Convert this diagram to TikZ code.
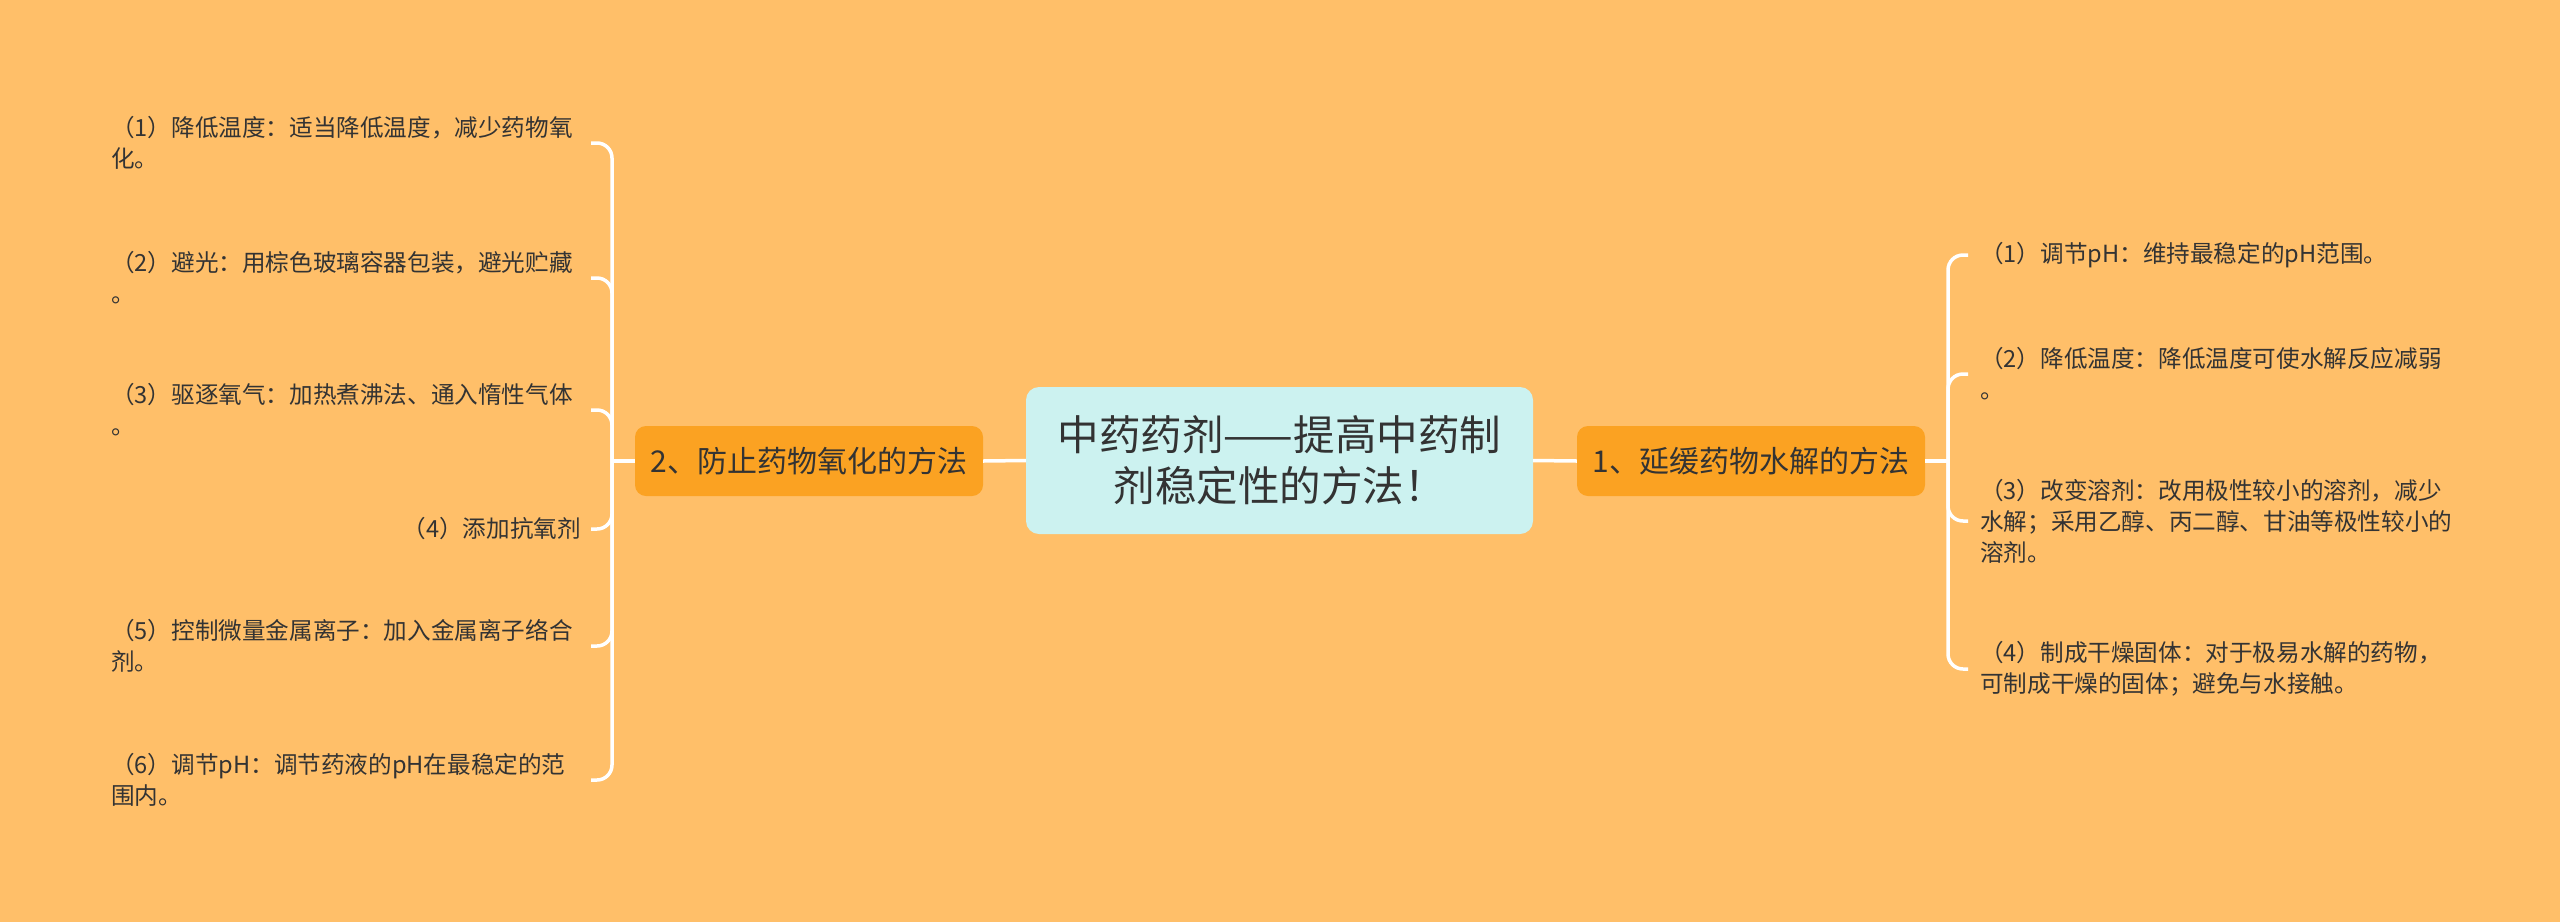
\documentclass[tikz,border=0pt]{standalone}
\usepackage{fontspec}
\setmainfont{Noto Sans CJK SC}
\definecolor{bgc}{HTML}{FFBF69}
\definecolor{brc}{HTML}{FBA222}
\definecolor{cenc}{HTML}{CCF2F0}
\definecolor{txc}{HTML}{333333}
\tikzset{
  conn/.style={draw=white, line width=3.5pt},
  brconn/.style={draw=white, line width=3.5pt, rounded corners=15pt},
  leaf/.style={inner sep=0pt, align=left, text=txc, font=\fontsize{23.6}{31}\selectfont},
  branchbox/.style={fill=brc, rounded corners=11pt, minimum width=348pt, minimum height=70pt, inner sep=0pt, text=txc, font=\fontsize{30}{36}\selectfont},
  centerbox/.style={fill=cenc, rounded corners=13pt, minimum width=507pt, minimum height=147pt, inner sep=0pt, align=center, text=txc, font=\fontsize{41.5}{51}\selectfont}
}
\begin{document}
\begin{tikzpicture}[x=1pt,y=-1pt]
\fill[bgc] (0,0) rectangle (2560,922);
\useasboundingbox (0,0) rectangle (2560,922);

\node[centerbox] (c) at (1279.5,460.5) {中药药剂——提高中药制\\剂稳定性的方法！};
\node[branchbox] (lb) at (809,461) {2、防止药物氧化的方法};
\node[branchbox] (rb) at (1751,461) {1、延缓药物水解的方法};

% junctions and tips
\coordinate (lj) at (612,461);
\coordinate (rj) at (1948,461);
\coordinate (lt1) at (591,143);
\coordinate (lt2) at (591,278);
\coordinate (lt3) at (591,410);
\coordinate (lt4) at (591,529);
\coordinate (lt5) at (591,646);
\coordinate (lt6) at (591,780);
\coordinate (rt1) at (1968,255);
\coordinate (rt2) at (1968,374);
\coordinate (rt3) at (1968,521);
\coordinate (rt4) at (1968,669);

% leaves left
\node[leaf, anchor=west] (l1) at (111,143) {（1）降低温度：适当降低温度，减少药物氧\\化。};
\node[leaf, anchor=west] (l2) at (111,278) {（2）避光：用棕色玻璃容器包装，避光贮藏\\。};
\node[leaf, anchor=west] (l3) at (111,410) {（3）驱逐氧气：加热煮沸法、通入惰性气体\\。};
\node[leaf, anchor=east] (l4) at (581,529) {（4）添加抗氧剂};
\node[leaf, anchor=west] (l5) at (111,646) {（5）控制微量金属离子：加入金属离子络合\\剂。};
\node[leaf, anchor=west] (l6) at (111,780) {（6）调节pH：调节药液的pH在最稳定的范\\围内。};

% leaves right
\node[leaf, anchor=west] (r1) at (1980,255) {（1）调节pH：维持最稳定的pH范围。};
\node[leaf, anchor=west] (r2) at (1980,374) {（2）降低温度：降低温度可使水解反应减弱\\。};
\node[leaf, anchor=west] (r3) at (1980,521) {（3）改变溶剂：改用极性较小的溶剂，减少\\水解；采用乙醇、丙二醇、甘油等极性较小的\\溶剂。};
\node[leaf, anchor=west] (r4) at (1980,669) {（4）制成干燥固体：对于极易水解的药物，\\可制成干燥的固体；避免与水接触。};

% connectors
\draw[conn] (c.west) -- (lb.east);
\draw[conn] (c.east) -- (rb.west);
\draw[conn] (lb.west) -- (lj);
\draw[conn] (rb.east) -- (rj);
\foreach \t in {lt1,lt2,lt3,lt4,lt5,lt6} \draw[brconn] (lj) |- (\t);
\foreach \t in {rt1,rt2,rt3,rt4} \draw[brconn] (rj) |- (\t);
\end{tikzpicture}
\end{document}
